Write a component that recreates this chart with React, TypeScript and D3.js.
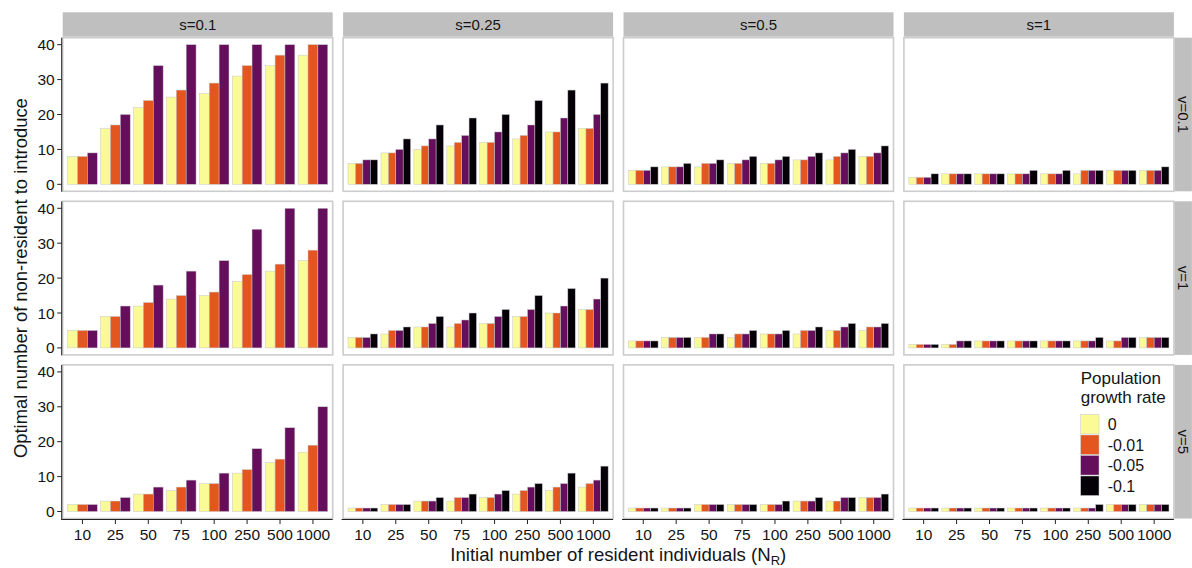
import React from "react";
import * as d3 from "d3";

// ---------- data ----------
const categories = ["10", "25", "50", "75", "100", "250", "500", "1000"];
const growthRates = ["0", "-0.01", "-0.05", "-0.1"];
const sLevels = ["s=0.1", "s=0.25", "s=0.5", "s=1"];
const vLevels = ["v=0.1", "v=1", "v=5"];
const yTicks = [0, 10, 20, 30, 40];
const fillColors = ["#FAFA96", "#E4561F", "#640E5C", "#050007"];

// each panel: one array per growth rate (0, -0.01, -0.05, -0.1); null = not present
const v01_s01 = [
  [8, 16, 22, 25, 26, 31, 34, 37],
  [8, 17, 24, 27, 29, 34, 37, 40],
  [9, 20, 34, 40, 40, 40, 40, 40],
  null,
];
const v01_s025 = [
  [6, 9, 10, 11, 12, 13, 15, 16],
  [6, 9, 11, 12, 12, 14, 15, 16],
  [7, 10, 13, 14, 15, 17, 19, 20],
  [7, 13, 17, 19, 20, 24, 27, 29],
];
const v01_s05 = [
  [4, 5, 5, 6, 6, 7, 7, 8],
  [4, 5, 6, 6, 6, 7, 8, 8],
  [4, 5, 6, 7, 7, 8, 9, 9],
  [5, 6, 7, 8, 8, 9, 10, 11],
];
const v01_s1 = [
  [2, 3, 3, 3, 3, 3, 4, 4],
  [2, 3, 3, 3, 3, 4, 4, 4],
  [2, 3, 3, 3, 3, 4, 4, 4],
  [3, 3, 3, 4, 4, 4, 4, 5],
];
const v1_s01 = [
  [5, 9, 12, 14, 15, 19, 22, 25],
  [5, 9, 13, 15, 16, 21, 24, 28],
  [5, 12, 18, 22, 25, 34, 40, 40],
  null,
];
const v1_s025 = [
  [3, 4, 6, 6, 7, 9, 10, 11],
  [3, 5, 6, 7, 7, 9, 10, 11],
  [3, 5, 7, 8, 9, 11, 12, 14],
  [4, 6, 9, 10, 11, 15, 17, 20],
];
const v1_s05 = [
  [2, 3, 3, 3, 4, 4, 5, 5],
  [2, 3, 3, 4, 4, 5, 5, 6],
  [2, 3, 4, 4, 4, 5, 6, 6],
  [2, 3, 4, 5, 5, 6, 7, 7],
];
const v1_s1 = [
  [1, 1, 2, 2, 2, 2, 2, 3],
  [1, 1, 2, 2, 2, 2, 2, 3],
  [1, 2, 2, 2, 2, 2, 3, 3],
  [1, 2, 2, 2, 2, 3, 3, 3],
];
const v5_s01 = [
  [2, 3, 5, 6, 8, 11, 14, 17],
  [2, 3, 5, 7, 8, 12, 15, 19],
  [2, 4, 7, 9, 11, 18, 24, 30],
  null,
];
const v5_s025 = [
  [1, 2, 3, 3, 4, 5, 6, 7],
  [1, 2, 3, 4, 4, 6, 7, 8],
  [1, 2, 3, 4, 5, 7, 8, 9],
  [1, 2, 4, 5, 6, 8, 11, 13],
];
const v5_s05 = [
  [1, 1, 2, 2, 2, 3, 3, 4],
  [1, 1, 2, 2, 2, 3, 3, 4],
  [1, 1, 2, 2, 2, 3, 4, 4],
  [1, 1, 2, 2, 3, 4, 4, 5],
];
const v5_s1 = [
  [1, 1, 1, 1, 1, 1, 2, 2],
  [1, 1, 1, 1, 1, 1, 2, 2],
  [1, 1, 1, 1, 1, 1, 2, 2],
  [1, 1, 1, 1, 1, 2, 2, 2],
];

const panels = [
  [v01_s01, v01_s025, v01_s05, v01_s1],
  [v1_s01, v1_s025, v1_s05, v1_s1],
  [v5_s01, v5_s025, v5_s05, v5_s1],
];

// ---------- layout ----------
const W = 1192;
const H = 568;
const panelLeft0 = 62.7;
const panelPitchX = 280.4;
const panelW = 270;
const panelTop0 = 37.7;
const panelPitchY = 163.6;
const panelH = 153.6;
const stripH = 24.4;
const stripW = 17.5;
const font = "'Liberation Sans', Arial, Helvetica, sans-serif";
const textColor = "#141414";

function Panel({ row, col }: { row: number; col: number }) {
  const data = panels[row][col];
  const x0 = panelLeft0 + col * panelPitchX;
  const y0 = panelTop0 + row * panelPitchY;
  const xBand = d3
    .scaleBand<string>()
    .domain(categories)
    .range([x0, x0 + panelW])
    .paddingInner(0.1)
    .paddingOuter(0.15);
  const present = growthRates.filter((_, i) => data[i] !== null);
  const inner = d3
    .scaleBand<string>()
    .domain(present)
    .range([0, xBand.bandwidth()])
    .padding(0);
  const y = d3.scaleLinear().domain([-2, 42]).range([y0 + panelH, y0]);

  const bars: React.ReactNode[] = [];
  growthRates.forEach((g, gi) => {
    const arr = data[gi];
    if (!arr) return;
    arr.forEach((v, ci) => {
      const cx = (xBand(categories[ci]) as number) + (inner(g) as number);
      bars.push(
        <rect
          key={`${g}-${ci}`}
          x={cx}
          y={y(v)}
          width={inner.bandwidth()}
          height={y(0) - y(v)}
          fill={fillColors[gi]}
          stroke="#c8c8c8"
          strokeWidth={0.5}
        />
      );
    });
  });

  return (
    <g>
      <rect x={x0} y={y0} width={panelW} height={panelH} fill="#fff" />
      {bars}
      <rect
        x={x0}
        y={y0}
        width={panelW}
        height={panelH}
        fill="none"
        stroke="#cccccc"
        strokeWidth={1.6}
      />
      {col === 0 && (
        <g>
          <line x1={x0 - 1} x2={x0 - 1} y1={y0} y2={y0 + panelH + 0.5} stroke="#222" strokeWidth={1} />
          {yTicks.map((t) => (
            <g key={t}>
              <line x1={x0 - 5.5} x2={x0 - 1} y1={y(t)} y2={y(t)} stroke="#222" strokeWidth={1} />
              <text
                x={x0 - 8}
                y={y(t)}
                textAnchor="end"
                dominantBaseline="central"
                fontSize={15.5}
                fill={textColor}
                fontFamily={font}
              >
                {t}
              </text>
            </g>
          ))}
        </g>
      )}
      {row === 2 && (
        <g>
          <line x1={x0 - 1.5} x2={x0 + panelW} y1={y0 + panelH + 1} y2={y0 + panelH + 1} stroke="#222" strokeWidth={1} />
          {categories.map((c) => {
            const cx = (xBand(c) as number) + xBand.bandwidth() / 2;
            return (
              <g key={c}>
                <line x1={cx} x2={cx} y1={y0 + panelH + 1} y2={y0 + panelH + 5.5} stroke="#222" strokeWidth={1} />
                <text
                  x={cx}
                  y={y0 + panelH + 21.5}
                  textAnchor="middle"
                  fontSize={15.5}
                  fill={textColor}
                  fontFamily={font}
                >
                  {c}
                </text>
              </g>
            );
          })}
        </g>
      )}
    </g>
  );
}

export default function App() {
  const legendX = 1080.7;
  const legendKeyY0 = 414.5;
  const keyH = 20.5;
  return (
    <svg width={W} height={H} style={{ position: "absolute", left: 0, top: 0 }}>
      <rect x={0} y={0} width={W} height={H} fill="#fff" />
      {sLevels.map((s, ci) => {
        const x0 = panelLeft0 + ci * panelPitchX;
        return (
          <g key={s}>
            <rect x={x0} y={panelTop0 - stripH - 1} width={panelW} height={stripH} fill="#bfbfbf" />
            <text
              x={x0 + panelW / 2}
              y={panelTop0 - 1 - stripH / 2}
              textAnchor="middle"
              dominantBaseline="central"
              fontSize={15}
              fill={textColor}
              fontFamily={font}
            >
              {s}
            </text>
          </g>
        );
      })}
      {vLevels.map((v, ri) => {
        const y0 = panelTop0 + ri * panelPitchY;
        const sx = panelLeft0 + 3 * panelPitchX + panelW + 0.5;
        return (
          <g key={v}>
            <rect x={sx} y={y0} width={stripW} height={panelH} fill="#bfbfbf" />
            <text
              transform={`translate(${sx + stripW / 2},${y0 + panelH / 2}) rotate(90)`}
              textAnchor="middle"
              dominantBaseline="central"
              fontSize={15}
              fill={textColor}
              fontFamily={font}
            >
              {v}
            </text>
          </g>
        );
      })}
      {panels.map((r, ri) => r.map((_, ci) => <Panel key={`${ri}-${ci}`} row={ri} col={ci} />))}
      {/* axis titles */}
      <text
        transform={`translate(20,${panelTop0 + (3 * panelPitchY - (panelPitchY - panelH)) / 2}) rotate(-90)`}
        textAnchor="middle"
        dominantBaseline="central"
        fontSize={18.4}
        fill={textColor}
        fontFamily={font}
      >
        Optimal number of non-resident to introduce
      </text>
      <text
        x={panelLeft0 + (3 * panelPitchX + panelW) / 2}
        y={561}
        textAnchor="middle"
        fontSize={18.6}
        fill={textColor}
        fontFamily={font}
      >
        Initial number of resident individuals (N
        <tspan dy={3.5} fontSize={13}>R</tspan>
        <tspan dy={-3.5}>)</tspan>
      </text>
      {/* legend */}
      <g fontFamily={font} fill={textColor}>
        <text x={legendX} y={384} fontSize={17}>Population</text>
        <text x={legendX} y={402.5} fontSize={17}>growth rate</text>
        {growthRates.map((g, i) => (
          <g key={g}>
            <rect
              x={legendX}
              y={legendKeyY0 + i * keyH}
              width={18.3}
              height={keyH - 1}
              fill={fillColors[i]}
              stroke="#c8c8c8"
              strokeWidth={0.5}
            />
            <text
              x={legendX + 27}
              y={legendKeyY0 + i * keyH + keyH / 2}
              dominantBaseline="central"
              fontSize={16}
            >
              {g}
            </text>
          </g>
        ))}
      </g>
    </svg>
  );
}
